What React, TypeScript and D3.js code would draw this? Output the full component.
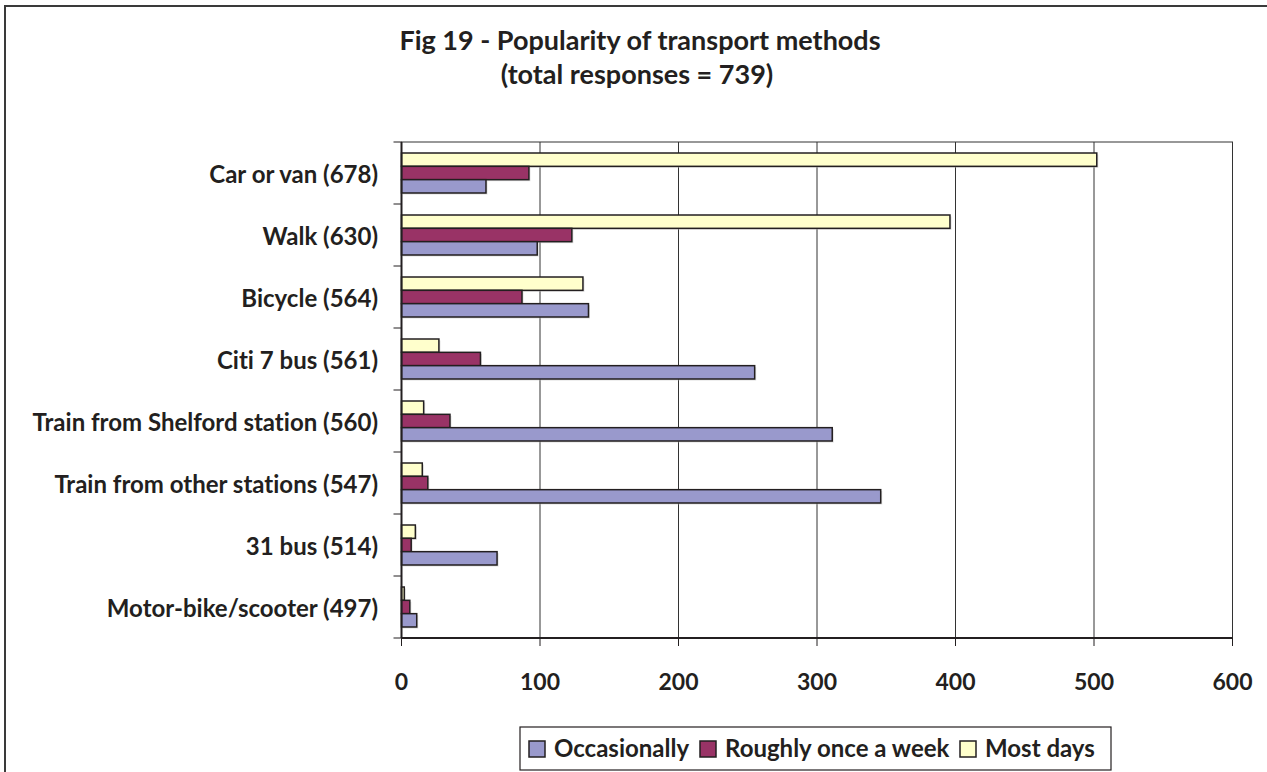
import React from "react";
import * as d3 from "d3";

const categories = [
  "Car or van (678)",
  "Walk (630)",
  "Bicycle (564)",
  "Citi 7 bus (561)",
  "Train from Shelford station (560)",
  "Train from other stations (547)",
  "31 bus (514)",
  "Motor-bike/scooter (497)",
];
const occasionally = [61, 98, 135, 255, 311, 346, 69, 11];
const onceAWeek = [92, 123, 87, 57, 35, 19, 7, 6];
const mostDays = [502, 396, 131, 27, 16, 15, 10, 2];
const seriesNames = ["Occasionally", "Roughly once a week", "Most days"];
const seriesColors = ["#9999CC", "#993366", "#FFFFCC"];
const xTicks = [0, 100, 200, 300, 400, 500, 600];
const titleLines = ["Fig 19 - Popularity of transport methods", "(total responses = 739)"];

const W = 1267;
const H = 772;
const plot = { left: 401.5, right: 1232.5, top: 142, bottom: 638 };
const FONT = "Lato, 'Open Sans', 'DejaVu Sans', sans-serif";
const TXT = "#231F20";

export default function App() {
  const x = d3.scaleLinear().domain([0, 600]).range([plot.left, plot.right]);
  const y = d3
    .scaleBand<string>()
    .domain(categories)
    .range([plot.top, plot.bottom])
    .paddingInner(0.355)
    .paddingOuter(0.1775);
  // top-to-bottom order inside each group: Most days, Roughly once a week, Occasionally
  const order = ["Most days", "Roughly once a week", "Occasionally"];
  const inner = d3.scaleBand<string>().domain(order).range([0, y.bandwidth()]);
  const values: Record<string, number[]> = {
    Occasionally: occasionally,
    "Roughly once a week": onceAWeek,
    "Most days": mostDays,
  };
  const colorOf = (s: string) => seriesColors[seriesNames.indexOf(s)];
  const step = y.step();

  const legendItems = [
    { name: seriesNames[0], sx: 529, tx: 554 },
    { name: seriesNames[1], sx: 700, tx: 725 },
    { name: seriesNames[2], sx: 960, tx: 985 },
  ];

  return (
    <svg
      width={W}
      height={H}
      style={{
        position: "absolute",
        left: 0,
        top: 0,
        background: "#fff",
        fontVariantLigatures: "none",
        fontFeatureSettings: "'liga' 0, 'clig' 0",
      }}
      fontFamily={FONT}
      fontWeight="bold"
    >
      <rect x={0} y={0} width={W} height={H} fill="#fff" />
      {/* outer frame */}
      <rect x={5} y={6} width={W + 10} height={H + 10} fill="none" stroke="#3a3a3a" strokeWidth={2} />

      {/* title */}
      <text x={640} y={50} textAnchor="middle" fontSize={27} fill={TXT}>
        {titleLines[0]}
      </text>
      <text x={637} y={84} textAnchor="middle" fontSize={27} fill={TXT}>
        {titleLines[1]}
      </text>

      {/* gridlines */}
      {xTicks.slice(1, -1).map((t) => (
        <line key={"g" + t} x1={x(t)} x2={x(t)} y1={plot.top} y2={plot.bottom} stroke="#333" strokeWidth={1} />
      ))}

      {/* plot border */}
      <rect
        x={plot.left}
        y={plot.top}
        width={plot.right - plot.left}
        height={plot.bottom - plot.top}
        fill="none"
        stroke="#333"
        strokeWidth={1}
      />

      {/* bars */}
      {categories.map((c, i) =>
        order.map((s) => {
          const v = values[s][i];
          const by = (y(c) as number) + (inner(s) as number);
          return (
            <g key={c + s}>
              <rect
                x={x(0) + 1.5}
                y={by + 1.5}
                width={x(v) - x(0)}
                height={inner.bandwidth()}
                fill="#bbb"
                opacity={0.5}
              />
              <rect
                x={x(0)}
                y={by}
                width={x(v) - x(0)}
                height={inner.bandwidth()}
                fill={colorOf(s)}
                stroke="#231F20"
                strokeWidth={1.5}
              />
            </g>
          );
        })
      )}

      {/* axes */}
      <line x1={plot.left} x2={plot.left} y1={plot.top} y2={plot.bottom} stroke="#231F20" strokeWidth={2} />
      <line x1={plot.left} x2={plot.right} y1={plot.bottom} y2={plot.bottom} stroke="#231F20" strokeWidth={2} />
      {d3.range(categories.length + 1).map((k) => {
        const yy = plot.top + k * step;
        return <line key={"ct" + k} x1={plot.left - 8} x2={plot.left} y1={yy} y2={yy} stroke="#231F20" strokeWidth={1} />;
      })}
      {xTicks.map((t) => (
        <g key={"xt" + t}>
          <line x1={x(t)} x2={x(t)} y1={plot.bottom} y2={plot.bottom + 8} stroke="#231F20" strokeWidth={1} />
          <text x={x(t)} y={690} textAnchor="middle" fontSize={23} fill={TXT}>
            {t}
          </text>
        </g>
      ))}

      {/* category labels */}
      {categories.map((c) => (
        <text
          key={"lbl" + c}
          x={378}
          y={(y(c) as number) + y.bandwidth() / 2 + 9.5}
          textAnchor="end"
          fontSize={24}
          fill={TXT}
        >
          {c}
        </text>
      ))}

      {/* legend */}
      <rect x={520} y={727} width={591} height={43} fill="#fff" stroke="#231F20" strokeWidth={1.2} />
      {legendItems.map((it) => (
        <g key={"lg" + it.name}>
          <rect x={it.sx} y={741} width={16} height={16} fill={colorOf(it.name)} stroke="#231F20" strokeWidth={1.5} />
          <text x={it.tx} y={757} fontSize={24} fill={TXT}>
            {it.name}
          </text>
        </g>
      ))}
    </svg>
  );
}
